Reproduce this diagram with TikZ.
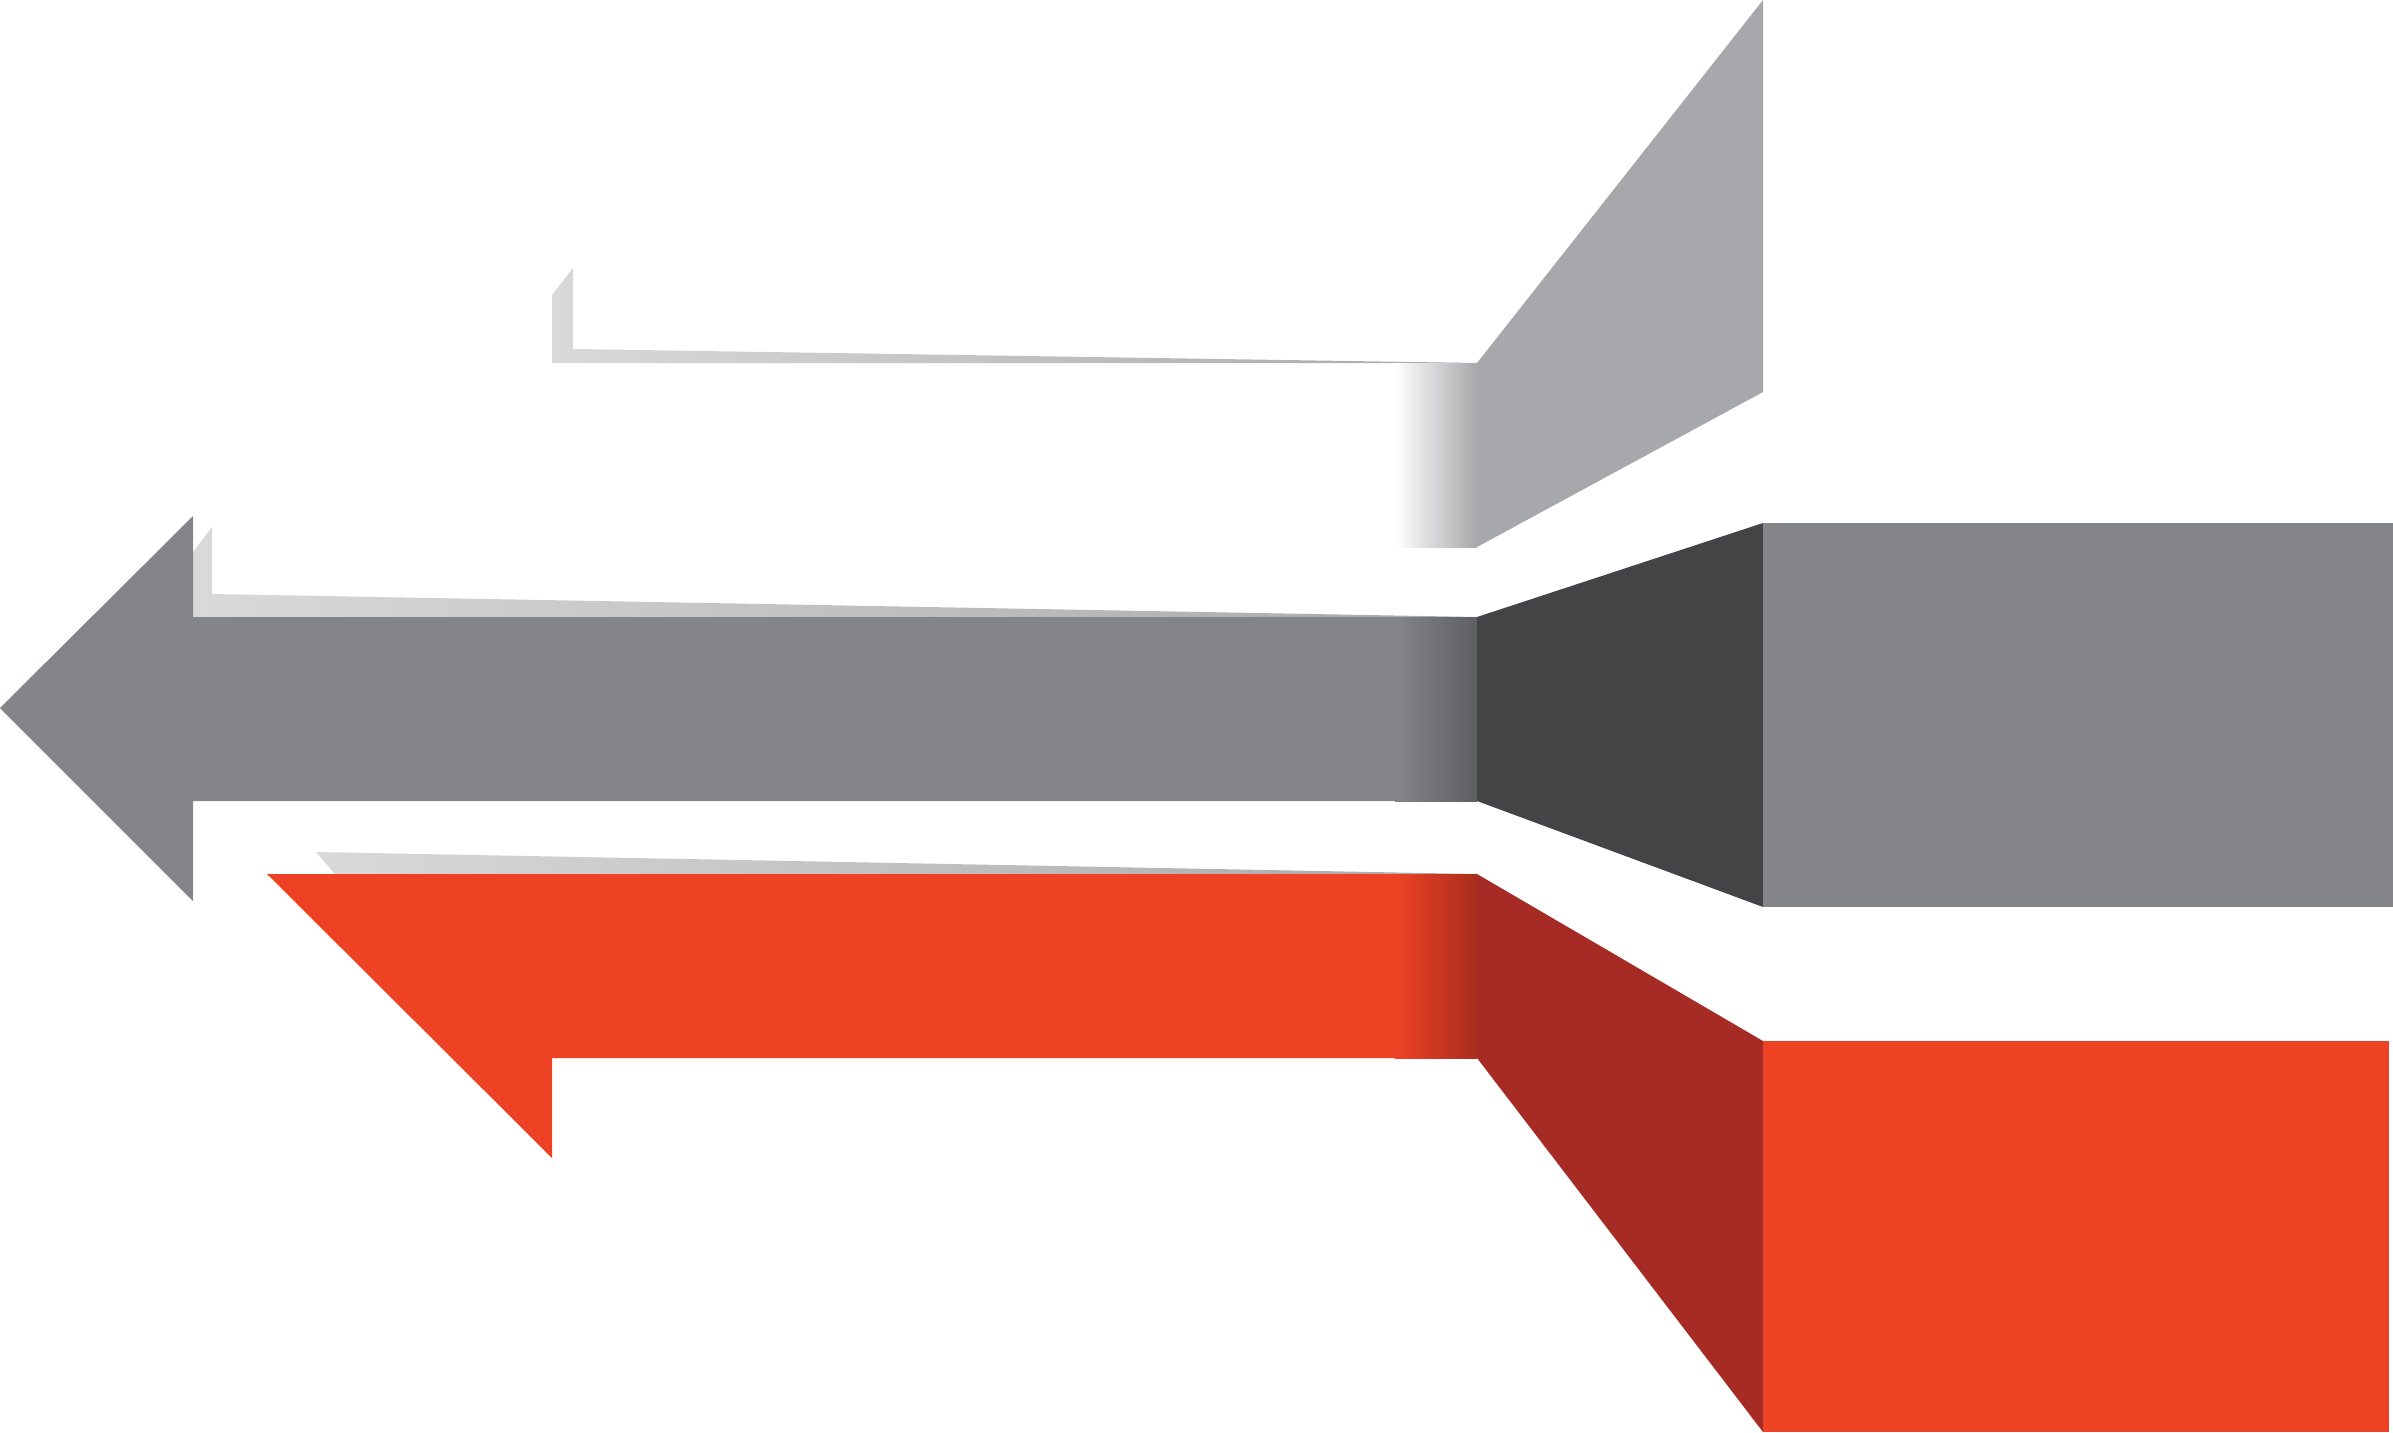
\documentclass[tikz,border=0pt]{standalone}

\definecolor{tipgray}{HTML}{A7A8AB}
\definecolor{slate}{HTML}{444446}
\definecolor{steel}{HTML}{848589}
\definecolor{steeldark}{HTML}{5E5F63}
\definecolor{flame}{HTML}{EE4224}
\definecolor{flamedark}{HTML}{A92D1D}
\definecolor{rust}{HTML}{A62B24}
\definecolor{haze}{HTML}{D9D9D9}
\definecolor{hazedark}{HTML}{A9A9AB}

\tikzset{
  shadowpart/.style={left color=haze, right color=hazedark, draw=none},
  fadepart/.style={left color=#1, right color=#1dark, draw=none},
}

\begin{document}
\begin{tikzpicture}[x=0.01cm,y=-0.01cm]
\def\xs{1477} %end of the three shafts
\def\xb{1763} %left side of the blocks
\def\xg{1395} %where the dark fade starts
\def\h{184} %height of a shaft
\def\ya{363} %top of the white shaft
\def\yb{617} %top of the grey shaft
\def\yc{874} %top of the red shaft

\useasboundingbox (0,0) rectangle (2393,1433);

% shadows behind the shafts
\shade[shadowpart] (552,295) -- (573,268) -- (573,349) -- (\xs,\ya) -- (552,\ya) -- cycle;
\shade[shadowpart] (193,552) -- (212,527) -- (212,594) -- (\xs,\yb) -- (193,\yb) -- cycle;
\shade[shadowpart] (316,852) -- (\xs,\yc) -- (335,\yc) -- cycle;

% white shaft, only its fade shows
\shade[left color=white, right color=tipgray] (\xg,\ya) rectangle (\xs,\ya+\h);

% grey arrow
\fill[steel] (0,708) -- (193,516) -- (193,\yb) -- (\xg+1,\yb) -- (\xg+1,\yb+\h)
  -- (193,\yb+\h) -- (193,901) -- cycle;
\shade[fadepart=steel] (\xg,\yb) rectangle (\xs,\yb+\h);

% red arrow
\fill[flame] (267,\yc) -- (\xg+1,\yc) -- (\xg+1,\yc+\h) -- (552,\yc+\h) -- (552,1158) -- cycle;
\shade[fadepart=flame] (\xg,\yc) rectangle (\xs,\yc+\h);

% slanted sides
\fill[tipgray] (\xs,\ya) -- (\xb,0) -- (\xb,392) -- (\xs,\ya+\h) -- cycle;
\fill[slate] (\xs,\yb) -- (\xb,523) -- (\xb,907) -- (\xs,\yb+\h) -- cycle;
\fill[rust] (\xs,\yc) -- (\xb,1041) -- (\xb,1432) -- (\xs,\yc+\h) -- cycle;

% blocks
\fill[steel] (\xb,523) rectangle (2393,907);
\fill[flame] (\xb,1041) rectangle (2389,1432);

\end{tikzpicture}
\end{document}
